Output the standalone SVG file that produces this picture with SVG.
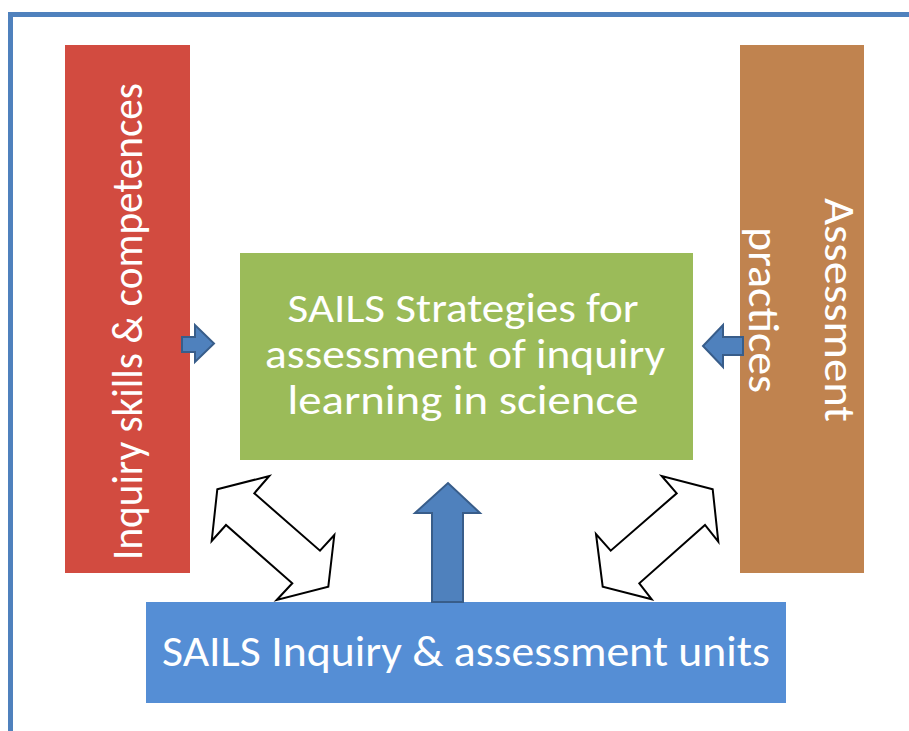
<svg xmlns="http://www.w3.org/2000/svg" width="909" height="731" viewBox="0 0 909 731">
  <defs>
    <style>
      .lbl { font-family: Carlito, "Open Sans", "Liberation Sans", sans-serif; font-size: 44px; fill: #ffffff; text-anchor: middle; }
      .mid { font-size: 41px; }
      .solid { fill: #4F81BD; stroke: #385D8A; stroke-width: 2; stroke-linejoin: miter; }
      .hollow { fill: #ffffff; stroke: #000000; stroke-width: 2; stroke-linejoin: miter; }
    </style>
  </defs>
  <rect width="909" height="731" fill="#ffffff"/>

  <!-- outer frame -->
  <path d="M10.5,740 V14.5 H920" fill="none" stroke="#4F81BD" stroke-width="5"/>

  <g id="inquiry-skills">
    <rect x="65" y="45" width="125" height="528" fill="#D24B40"/>
    <text class="lbl" transform="translate(142,321.5) rotate(-90)" x="0" y="0" textLength="477" lengthAdjust="spacingAndGlyphs">Inquiry skills &amp; competences</text>
  </g>

  <g id="assessment-practices">
    <rect x="740" y="45" width="124" height="528" fill="#C0834F"/>
    <text class="lbl" transform="translate(825,310) rotate(90)" x="0" y="0" textLength="224" lengthAdjust="spacingAndGlyphs">Assessment</text>
    <text class="lbl" transform="translate(749,310) rotate(90)" x="0" y="0" textLength="166" lengthAdjust="spacingAndGlyphs">practices</text>
  </g>

  <g id="sails-strategies">
    <rect x="240" y="253" width="453" height="207" fill="#9BBB59"/>
    <text class="lbl mid" x="463" y="322" textLength="351" lengthAdjust="spacingAndGlyphs">SAILS Strategies for</text>
    <text class="lbl mid" x="465" y="368" textLength="400" lengthAdjust="spacingAndGlyphs">assessment of inquiry</text>
    <text class="lbl mid" x="463" y="414" textLength="351" lengthAdjust="spacingAndGlyphs">learning in science</text>
  </g>

  <g id="sails-units">
    <rect x="146" y="602" width="640" height="101" fill="#558ED5"/>
    <text class="lbl" x="466" y="666" textLength="608" lengthAdjust="spacingAndGlyphs">SAILS Inquiry &amp; assessment units</text>
  </g>

  <g id="connectors">
    <!-- skills into strategies -->
    <polygon class="solid" points="182,337 195,337 195,325 214,343.5 195,362 195,352 182,352"/>
    <!-- practices into strategies -->
    <polygon class="solid" points="743,337 723,337 723,325 703,346 723,367 723,355 743,355"/>
    <!-- units up into strategies -->
    <polygon class="solid" points="432,602 432,513 415,513 448,483 480,513 463,513 463,602"/>
    <!-- two-way links between units and side columns -->
    <polygon class="hollow" points="217.3,489.3 269.3,476 254.3,493.3 320,550.7 334.3,535 328.3,586.7 276.7,600 292.3,583.3 226,525 211.7,541"/>
    <polygon class="hollow" points="712.7,489.3 661.7,476 676.7,493.3 610.7,550.7 596,534 602.7,586.7 651.7,599.3 639.3,583.3 705,525 718.3,541.7"/>
  </g>
</svg>
